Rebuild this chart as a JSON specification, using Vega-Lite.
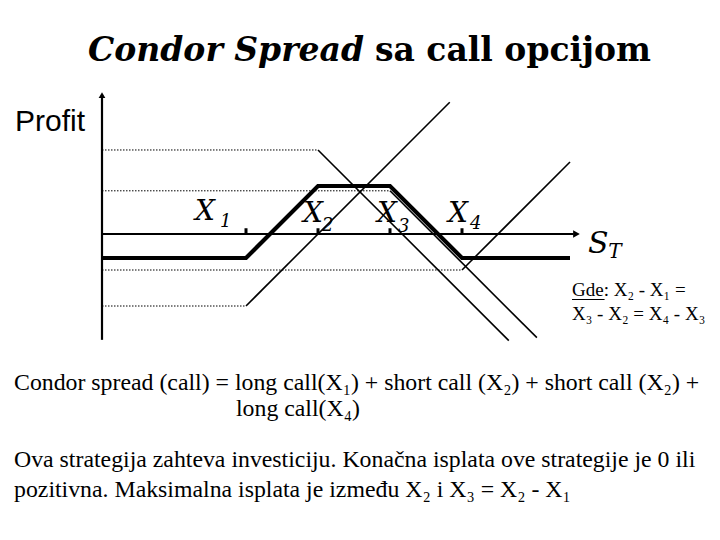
{
  "$schema": "https://vega.github.io/schema/vega-lite/v6.json",
  "width": 720,
  "height": 540,
  "padding": 0,
  "autosize": {"type": "none"},
  "background": "white",
  "config": {"view": {"stroke": null}},
  "datasets": {
    "payoffs": [
      {"seg": "LC1-flat", "kind": "dotted", "S": 0, "P": -10},
      {"seg": "LC1-flat", "kind": "dotted", "S": 20, "P": -10},
      {"seg": "LC1-slope", "kind": "thin", "S": 20, "P": -10},
      {"seg": "LC1-slope", "kind": "thin", "S": 48.3, "P": 18.3},
      {"seg": "SC2-flat", "kind": "dotted", "S": 0, "P": 11.67},
      {"seg": "SC2-flat", "kind": "dotted", "S": 30, "P": 11.67},
      {"seg": "SC2-slope", "kind": "thin", "S": 30, "P": 11.67},
      {"seg": "SC2-slope", "kind": "thin", "S": 56.5, "P": -14.8},
      {"seg": "SC3-flat", "kind": "dotted", "S": 0, "P": 6},
      {"seg": "SC3-flat", "kind": "dotted", "S": 40, "P": 6},
      {"seg": "SC3-slope", "kind": "thin", "S": 40, "P": 6},
      {"seg": "SC3-slope", "kind": "thin", "S": 60.4, "P": -14.4},
      {"seg": "LC4-flat", "kind": "dotted", "S": 0, "P": -5},
      {"seg": "LC4-flat", "kind": "dotted", "S": 50, "P": -5},
      {"seg": "LC4-slope", "kind": "thin", "S": 50, "P": -5},
      {"seg": "LC4-slope", "kind": "thin", "S": 65, "P": 10},
      {"seg": "Condor", "kind": "bold", "S": 0, "P": -3.33},
      {"seg": "Condor", "kind": "bold", "S": 20, "P": -3.33},
      {"seg": "Condor", "kind": "bold", "S": 30, "P": 6.67},
      {"seg": "Condor", "kind": "bold", "S": 40, "P": 6.67},
      {"seg": "Condor", "kind": "bold", "S": 50, "P": -3.33},
      {"seg": "Condor", "kind": "bold", "S": 65, "P": -3.33}
    ],
    "axes": [
      {"name": "profit", "S": 0, "P": -14.7, "S2": 0, "P2": 19},
      {"name": "ST", "S": 0, "P": 0, "S2": 65.5, "P2": 0}
    ],
    "arrows": [
      {"name": "profit", "S": 0, "P": 19.3, "dir": "up"},
      {"name": "ST", "S": 65.9, "P": 0, "dir": "right"}
    ],
    "ticks": [
      {"strike": "X1", "S": 20, "P": 0, "P2": 0.8},
      {"strike": "X2", "S": 30, "P": 0, "P2": 0.8},
      {"strike": "X3", "S": 40, "P": 0, "P2": 0.8},
      {"strike": "X4", "S": 50, "P": 0, "P2": 0.8}
    ],
    "labels": [
      {"role": "title-it", "text": "Condor Spread", "S": -1.94, "P": 24.0},
      {"role": "title-b", "text": "sa call opcijom", "S": 37.9, "P": 24.0},
      {"role": "ylabel", "text": "Profit", "S": -12.08, "P": 14.3},
      {"role": "strike", "text": "X", "S": 12.92, "P": 1.94},
      {"role": "strike", "text": "X", "S": 27.92, "P": 1.67},
      {"role": "strike", "text": "X", "S": 38.19, "P": 1.67},
      {"role": "strike", "text": "X", "S": 48.06, "P": 1.67},
      {"role": "strikesub", "text": "1", "S": 16.39, "P": 0.97},
      {"role": "strikesub", "text": "2", "S": 30.56, "P": 0.42},
      {"role": "strikesub", "text": "3", "S": 41.11, "P": 0.28},
      {"role": "strikesub", "text": "4", "S": 51.11, "P": 0.69},
      {"role": "xlabel", "text": "S", "S": 67.5, "P": -2.64},
      {"role": "xlabelsub", "text": "T", "S": 70.3, "P": -3.33},
      {"role": "note", "text": "Gde: X₂ - X₁ =", "S": 65.28, "P": -8.61},
      {"role": "note", "text": "X₃ - X₂ = X₄ - X₃", "S": 65.28, "P": -11.94},
      {"role": "body", "text": "Condor spread (call) = long call(X₁) + short call (X₂) + short call (X₂) +", "S": -12.22, "P": -21.67},
      {"role": "body", "text": "long call(X₄)", "S": 18.61, "P": -25.28},
      {"role": "body", "text": "Ova strategija zahteva investiciju.  Konačna isplata ove strategije je 0 ili", "S": -12.22, "P": -32.36},
      {"role": "body", "text": "pozitivna. Maksimalna isplata je između X₂ i X₃ = X₂ - X₁", "S": -12.22, "P": -36.53}
    ],
    "underline": [
      {"word": "Gde", "S": 65.28, "P": -9.1, "S2": 69.8}
    ]
  },
  "encoding": {
    "x": {"field": "S", "type": "quantitative", "scale": {"domain": [-14.1667, 85.8333], "nice": false, "zero": false}, "axis": null},
    "y": {"field": "P", "type": "quantitative", "scale": {"domain": [-42.5, 32.5], "nice": false, "zero": false}, "axis": null}
  },
  "layer": [
    {
      "data": {"name": "payoffs"},
      "transform": [{"filter": "datum.kind === 'dotted'"}],
      "mark": {"type": "line", "color": "black", "strokeWidth": 1, "strokeDash": [1.5, 1.5]},
      "encoding": {"detail": {"field": "seg"}}
    },
    {
      "data": {"name": "payoffs"},
      "transform": [{"filter": "datum.kind === 'thin'"}],
      "mark": {"type": "line", "color": "black", "strokeWidth": 1.6},
      "encoding": {"detail": {"field": "seg"}}
    },
    {
      "data": {"name": "axes"},
      "mark": {"type": "rule", "color": "black", "strokeWidth": 2.2},
      "encoding": {"x2": {"field": "S2"}, "y2": {"field": "P2"}}
    },
    {
      "data": {"name": "ticks"},
      "mark": {"type": "rule", "color": "black", "strokeWidth": 3},
      "encoding": {"y2": {"field": "P2"}}
    },
    {
      "data": {"name": "payoffs"},
      "transform": [{"filter": "datum.kind === 'bold'"}],
      "mark": {"type": "line", "color": "black", "strokeWidth": 4.2, "strokeJoin": "miter"},
      "encoding": {"detail": {"field": "seg"}}
    },
    {
      "data": {"name": "arrows"},
      "transform": [{"filter": "datum.dir === 'up'"}],
      "mark": {"type": "point", "shape": "triangle-up", "filled": true, "color": "black", "size": 45, "opacity": 1}
    },
    {
      "data": {"name": "arrows"},
      "transform": [{"filter": "datum.dir === 'right'"}],
      "mark": {"type": "point", "shape": "triangle-right", "filled": true, "color": "black", "size": 60, "opacity": 1}
    },
    {
      "data": {"name": "underline"},
      "mark": {"type": "rule", "color": "black", "strokeWidth": 1.2},
      "encoding": {"x2": {"field": "S2"}}
    },
    {
      "data": {"name": "labels"},
      "transform": [{"filter": "datum.role === 'title-it'"}],
      "mark": {"type": "text", "align": "left", "baseline": "alphabetic", "font": "DejaVu Serif", "fontSize": 33, "fontWeight": "bold", "fontStyle": "italic", "color": "black"},
      "encoding": {"text": {"field": "text"}}
    },
    {
      "data": {"name": "labels"},
      "transform": [{"filter": "datum.role === 'title-b'"}],
      "mark": {"type": "text", "align": "left", "baseline": "alphabetic", "font": "DejaVu Serif", "fontSize": 33, "fontWeight": "bold", "color": "black"},
      "encoding": {"text": {"field": "text"}}
    },
    {
      "data": {"name": "labels"},
      "transform": [{"filter": "datum.role === 'ylabel'"}],
      "mark": {"type": "text", "align": "left", "baseline": "alphabetic", "font": "Liberation Sans", "fontSize": 30, "color": "black"},
      "encoding": {"text": {"field": "text"}}
    },
    {
      "data": {"name": "labels"},
      "transform": [{"filter": "datum.role === 'strike'"}],
      "mark": {"type": "text", "align": "left", "baseline": "alphabetic", "font": "DejaVu Serif", "fontSize": 28, "fontStyle": "italic", "color": "black"},
      "encoding": {"text": {"field": "text"}}
    },
    {
      "data": {"name": "labels"},
      "transform": [{"filter": "datum.role === 'strikesub'"}],
      "mark": {"type": "text", "align": "left", "baseline": "alphabetic", "font": "DejaVu Serif", "fontSize": 18, "fontStyle": "italic", "color": "black"},
      "encoding": {"text": {"field": "text"}}
    },
    {
      "data": {"name": "labels"},
      "transform": [{"filter": "datum.role === 'xlabel'"}],
      "mark": {"type": "text", "align": "left", "baseline": "alphabetic", "font": "DejaVu Serif", "fontSize": 30, "fontStyle": "italic", "color": "black"},
      "encoding": {"text": {"field": "text"}}
    },
    {
      "data": {"name": "labels"},
      "transform": [{"filter": "datum.role === 'xlabelsub'"}],
      "mark": {"type": "text", "align": "left", "baseline": "alphabetic", "font": "DejaVu Serif", "fontSize": 20, "fontStyle": "italic", "color": "black"},
      "encoding": {"text": {"field": "text"}}
    },
    {
      "data": {"name": "labels"},
      "transform": [{"filter": "datum.role === 'note'"}],
      "mark": {"type": "text", "align": "left", "baseline": "alphabetic", "font": "Liberation Serif", "fontSize": 19, "color": "black"},
      "encoding": {"text": {"field": "text"}}
    },
    {
      "data": {"name": "labels"},
      "transform": [{"filter": "datum.role === 'body'"}],
      "mark": {"type": "text", "align": "left", "baseline": "alphabetic", "font": "Liberation Serif", "fontSize": 23.8, "color": "black"},
      "encoding": {"text": {"field": "text"}}
    }
  ]
}
